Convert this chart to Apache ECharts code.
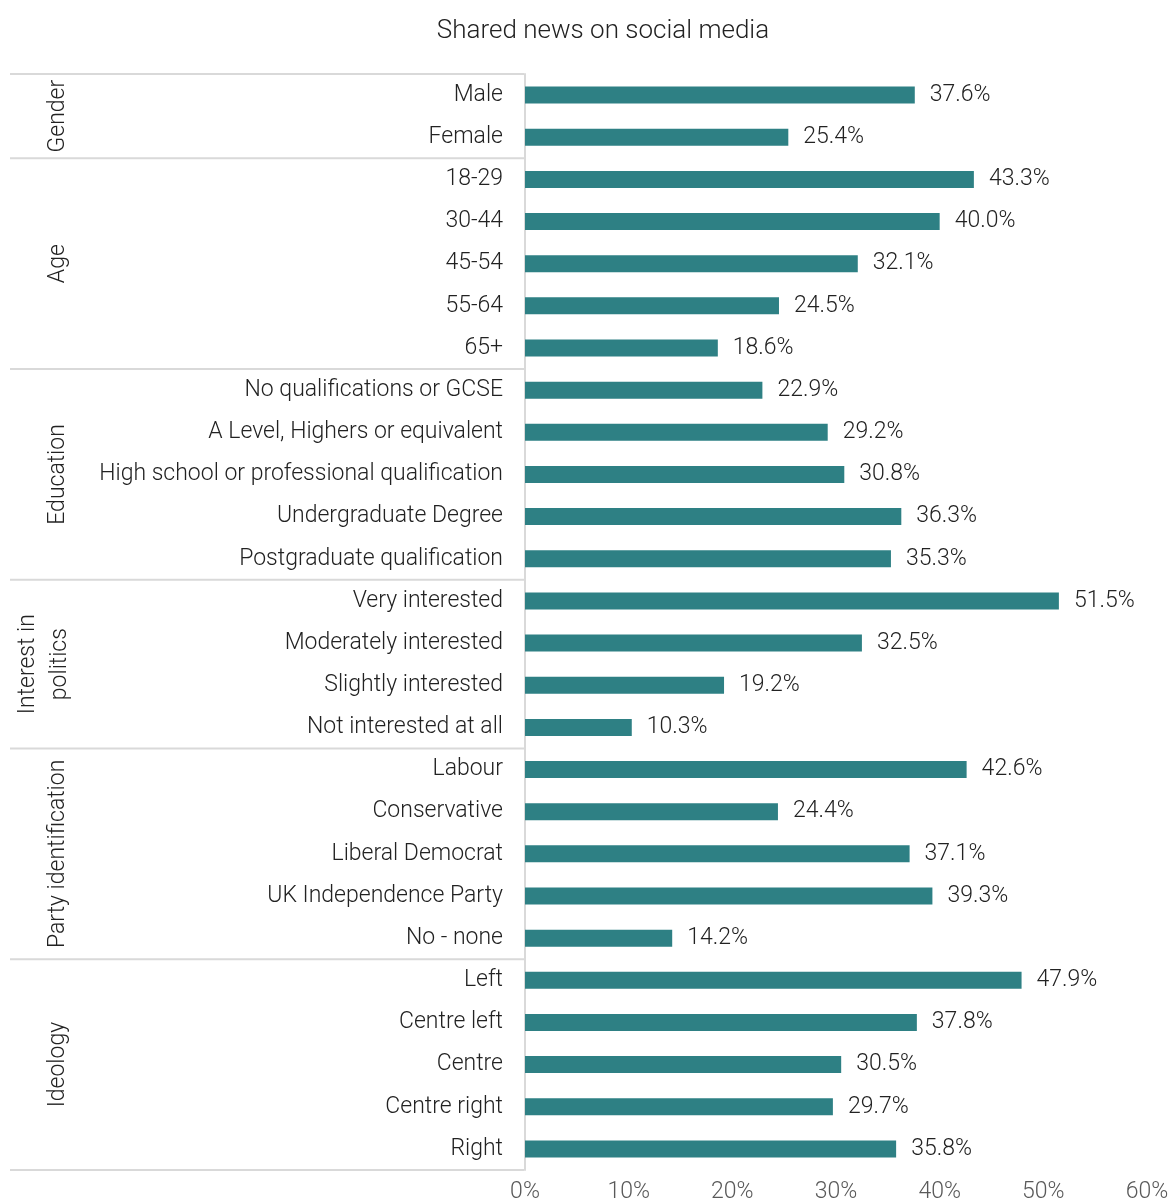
<!DOCTYPE html>
<html><head><meta charset="utf-8">
<script src="https://cdn.jsdelivr.net/npm/echarts@6/dist/echarts.min.js"></script>
<style>html,body{margin:0;padding:0;background:#fff}#c{width:1175px;height:1202px}</style>
</head><body><div id="c"></div>
<script>
const title = 'Shared news on social media';
const categories = ['Male','Female','18-29','30-44','45-54','55-64','65+',
 'No qualifications or GCSE','A Level, Highers or equivalent','High school or professional qualification','Undergraduate Degree','Postgraduate qualification',
 'Very interested','Moderately interested','Slightly interested','Not interested at all',
 'Labour','Conservative','Liberal Democrat','UK Independence Party','No - none',
 'Left','Centre left','Centre','Centre right','Right'];
const values = [37.6,25.4,43.3,40.0,32.1,24.5,18.6,22.9,29.2,30.8,36.3,35.3,51.5,32.5,19.2,10.3,42.6,24.4,37.1,39.3,14.2,47.9,37.8,30.5,29.7,35.8];
const groupNames = ['Gender','Age','Education','Interest in\npolitics','Party identification','Ideology'];
const groupSizes = [2,5,5,4,5,5];
const xTicks = [0,10,20,30,40,50,60];

const FONT = 'Roboto';
const chart = echarts.init(document.getElementById('c'));
chart.setOption({
  animation:false,
  title:{text:title,left:598,top:13,textAlign:'center',textStyle:{fontFamily:FONT,fontWeight:300,fontSize:26,color:'#222'}},
  grid:{left:525,right:28,top:74,bottom:32,containLabel:false,outerBoundsMode:'none'},
  xAxis:{type:'value',min:xTicks[0],max:xTicks[xTicks.length-1],interval:10,
    axisLine:{show:false},axisTick:{show:false},splitLine:{show:false},
    axisLabel:{formatter:v=>v+'%',fontFamily:FONT,fontWeight:300,fontSize:23,color:'#595959',margin:11}},
  yAxis:{type:'category',inverse:true,data:categories,
    axisLine:{show:true,lineStyle:{color:'#d9d9d9',width:2}},axisTick:{show:false},
    axisLabel:{fontFamily:FONT,fontWeight:300,fontSize:23,color:'#222',margin:22,lineHeight:23,padding:[6,0,0,0]}},
  series:[{type:'bar',data:values,barWidth:17,itemStyle:{color:'#2e8084'},
    label:{show:true,position:'right',distance:15,formatter:p=>p.value.toFixed(1)+'%',
      fontFamily:FONT,fontWeight:300,fontSize:23,color:'#222',lineHeight:23,padding:[8,0,0,0]}}]
});
// group separators and labels positioned from the category axis scale
const g = [];
const step = chart.convertToPixel({yAxisIndex:0},1)-chart.convertToPixel({yAxisIndex:0},0);
let idx = 0;
const xAxis0 = chart.convertToPixel({xAxisIndex:0},0);
const lineAt = y => ({type:'line',shape:{x1:10,y1:y,x2:xAxis0-1,y2:y},style:{stroke:'#d9d9d9',lineWidth:2},z:10});
g.push(lineAt(chart.convertToPixel({yAxisIndex:0},0)-step/2));
groupSizes.forEach((n,i)=>{
  const y0 = chart.convertToPixel({yAxisIndex:0},idx)-step/2;
  const y1 = chart.convertToPixel({yAxisIndex:0},idx+n-1)+step/2;
  g.push(lineAt(y1));
  const lines = groupNames[i].split('\n').length;
  g.push({type:'text',x:58-(lines-1)*14,y:(y0+y1)/2,rotation:Math.PI/2,
    style:{text:groupNames[i],fontFamily:FONT,fontWeight:300,fontSize:23,fill:'#222',align:'center',verticalAlign:'middle',lineHeight:32},z:10});
  idx += n;
});
chart.setOption({graphic:g});
</script></body></html>
